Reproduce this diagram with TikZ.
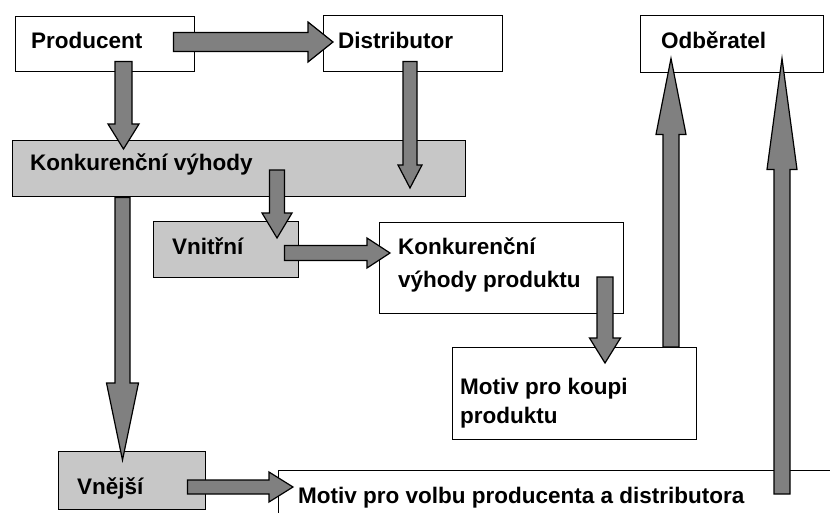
\documentclass[tikz,border=0pt]{standalone}
\usepackage{fontspec}
\setmainfont{Liberation Sans}
\usetikzlibrary{calc}
\tikzset{
  box/.style={draw=black, line width=1.4pt, fill=white, inner sep=0pt, anchor=north west},
  greybox/.style={box, fill=black!22},
  lbl/.style={inner sep=0pt, anchor=base west, align=left, font=\bfseries\fontsize{22.5pt}{33pt}\selectfont},
  fatstyle/.style={draw=black, line width=1.2pt, fill=black!50, line join=miter}
}
% #1 start, #2 tip, #3 half shaft width, #4 half head width, #5 head length
\newcommand\fatarrow[5]{%
  \coordinate (faA) at #1;
  \coordinate (faB) at #2;
  \coordinate (faC) at ($(faB)!#5!(faA)$);
  \draw[fatstyle] ($(faA)!#3!90:(faB)$) -- ($(faC)!#3!90:(faB)$) -- ($(faC)!#4!90:(faB)$)
     -- (faB) -- ($(faC)!#4!-90:(faB)$) -- ($(faC)!#3!-90:(faB)$) -- ($(faA)!#3!-90:(faB)$) -- cycle;
}
\begin{document}
\begin{tikzpicture}[x=1pt,y=-1pt]
\useasboundingbox (0,0) rectangle (830,512);
\begin{scope}
\clip (0,0) rectangle (830,512);
% boxes
\node[box, minimum width=179pt, minimum height=55pt] (prod) at (15,16) {};
\node[box, minimum width=179pt, minimum height=56pt] (dist) at (323,15) {};
\node[box, minimum width=183pt, minimum height=57pt] (odb) at (640,15) {};
\node[greybox, minimum width=453pt, minimum height=56pt] (kv) at (12,140) {};
\node[greybox, minimum width=145pt, minimum height=56pt] (vni) at (153,221) {};
\node[box, minimum width=244pt, minimum height=91pt] (kvp) at (379,222) {};
\node[box, minimum width=244pt, minimum height=92pt] (mk) at (452,347) {};
\node[greybox, minimum width=147pt, minimum height=58pt] (vne) at (58,451) {};
\node[box, minimum width=562pt, minimum height=60pt] (mv) at (278,470) {};
% texts (multi-line labels: base = last line)
\node[lbl] (prodt) at ($(prod.north west)+(16,32)$) {Producent};
\node[lbl] (distt) at ($(dist.north west)+(15,33)$) {Distributor};
\node[lbl] (odbt) at ($(odb.north west)+(21,33)$) {Odběratel};
\node[lbl] (kvt) at ($(kv.north west)+(18,30)$) {Konkurenční výhody};
\node[lbl] (vnit) at ($(vni.north west)+(19,33)$) {Vnitřní};
\node[lbl] (kvpt) at ($(kvp.north west)+(19,65)$) {Konkurenční\\výhody produktu};
\node[lbl, font=\bfseries\fontsize{22.5pt}{29pt}\selectfont] (mkt) at ($(mk.north west)+(8,76)$) {Motiv pro koupi\\produktu};
\node[lbl] (vnet) at ($(vne.north west)+(19,43)$) {Vnější};
\node[lbl] (mvt) at ($(mv.north west)+(20,33)$) {Motiv pro volbu producenta a distributora};
% arrows
\fatarrow{($(prod.north east)+(-22,26)$)}{($(dist.north west)+(10,27)$)}{9.5pt}{20pt}{25pt}
\fatarrow{($(prod.south west)+(108.5,-11)$)}{($(kv.north west)+(111.5,9)$)}{8.5pt}{15.5pt}{25pt}
\fatarrow{($(dist.south west)+(87,-11)$)}{($(kv.north west)+(398,48)$)}{7pt}{12pt}{23pt}
\fatarrow{($(kv.north west)+(265,30)$)}{($(vni.north west)+(124,17)$)}{7.5pt}{15pt}{25pt}
\fatarrow{($(kv.south west)+(110.5,0)$)}{($(vne.north west)+(64.5,9)$)}{7.5pt}{16pt}{77pt}
\fatarrow{($(vni.north east)+(-15,32)$)}{($(kvp.north west)+(11,31)$)}{7.5pt}{15pt}{23pt}
\fatarrow{($(kvp.north west)+(226,55)$)}{($(mk.north west)+(153,16)$)}{8pt}{15.5pt}{25pt}
\fatarrow{($(mk.north west)+(219,0)$)}{($(odb.south west)+(31,-15)$)}{8pt}{15pt}{76pt}
\fatarrow{($(mv.north west)+(504,24)$)}{($(odb.south west)+(142,-15)$)}{8pt}{15pt}{111pt}
\fatarrow{($(vne.north east)+(-19,36)$)}{($(mv.north west)+(15,17)$)}{7pt}{15pt}{24pt}
\end{scope}
\end{tikzpicture}
\end{document}
